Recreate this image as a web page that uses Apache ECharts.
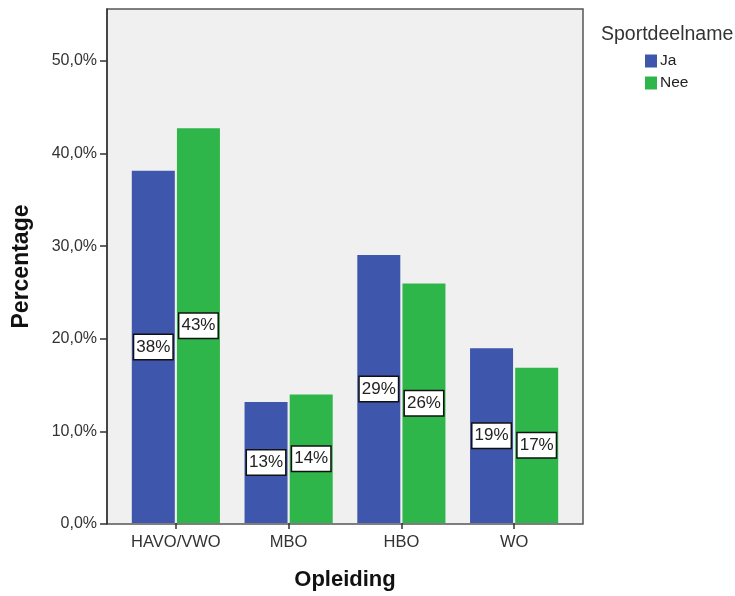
<!DOCTYPE html>
<html>
<head>
<meta charset="utf-8">
<script src="https://cdn.jsdelivr.net/npm/echarts@6/dist/echarts.min.js"></script>
<style>html,body{margin:0;padding:0;background:#fff}#c{width:735px;height:596px}</style>
</head>
<body>
<div id="c"></div>
<script>
var categories = ['HAVO/VWO', 'MBO', 'HBO', 'WO'];
var seriesNames = ['Ja', 'Nee'];
var jaValues = [38.1, 13.1, 29.0, 18.9];
var neeValues = [42.7, 13.9, 25.9, 16.8];
var yTicks = [0, 10, 20, 30, 40, 50];

var chart = echarts.init(document.getElementById('c'));
var font = 'Liberation Sans, Arial, sans-serif';
function lbl() {
  return {
    show: true, position: 'inside',
    formatter: function (p) { return Math.round(p.value) + '%'; },
    color: '#222', fontFamily: font, fontSize: 17,
    backgroundColor: '#fff', borderColor: '#111', borderWidth: 1.5,
    padding: [4, 2, 3, 2]
  };
}
chart.setOption({
  animation: false,
  title: {
    text: 'Sportdeelname', left: 596, top: 20,
    textStyle: { fontFamily: font, fontSize: 19.5, fontWeight: 'normal', color: '#333' }
  },
  legend: {
    orient: 'vertical', left: 640, top: 48, itemWidth: 12, itemHeight: 13, itemGap: 6,
    data: seriesNames,
    textStyle: { fontFamily: font, fontSize: 15.5, color: '#222', padding: [0, 0, 0, -2] },
    icon: 'rect'
  },
  grid: [
    { left: 107, right: 152, top: 9, bottom: 72, show: true, backgroundColor: '#f0f0f0', borderColor: '#555', borderWidth: 1.5 },
    { left: 119.5, right: 164.5, top: 9, bottom: 72 }
  ],
  xAxis: [
    { gridIndex: 0, type: 'value', min: 0, max: 1, show: false },
    {
      gridIndex: 1, type: 'category', data: categories,
      name: 'Opleiding', nameLocation: 'middle', nameGap: 46,
      nameTextStyle: { fontFamily: font, fontSize: 22, fontWeight: 'bold', color: '#111' },
      axisLine: { show: false },
      axisTick: { show: true, interval: 0, alignWithLabel: true, length: 6, lineStyle: { color: '#333', width: 1.5 } },
      axisLabel: { interval: 0, hideOverlap: false, fontFamily: font, fontSize: 16.5, color: '#333', margin: 11 }
    }
  ],
  yAxis: [
    {
      gridIndex: 0, type: 'value', min: 0, max: 55.6, interval: 10,
      name: 'Percentage', nameLocation: 'middle', nameGap: 74,
      nameTextStyle: { fontFamily: font, fontSize: 23, fontWeight: 'bold', color: '#111' },
      axisLine: { show: true, lineStyle: { color: '#333', width: 1.5 } },
      axisTick: { show: true, length: 7, lineStyle: { color: '#333', width: 1.5 } },
      splitLine: { show: false },
      axisLabel: {
        fontFamily: font, fontSize: 16, color: '#333', margin: 10, showMaxLabel: false,
        formatter: function (v) { return yTicks.indexOf(v) >= 0 ? v.toFixed(1).replace('.', ',') + '%' : ''; }
      }
    },
    { gridIndex: 1, type: 'value', min: 0, max: 55.6, show: false }
  ],
  series: [
    { name: seriesNames[0], type: 'bar', xAxisIndex: 1, yAxisIndex: 1, data: jaValues, barWidth: 43, barGap: '5%',
      itemStyle: { color: '#3E56AB' }, label: lbl() },
    { name: seriesNames[1], type: 'bar', xAxisIndex: 1, yAxisIndex: 1, data: neeValues, barWidth: 43, barGap: '5%',
      itemStyle: { color: '#2EB64A' }, label: lbl() }
  ]
});
</script>
</body>
</html>
